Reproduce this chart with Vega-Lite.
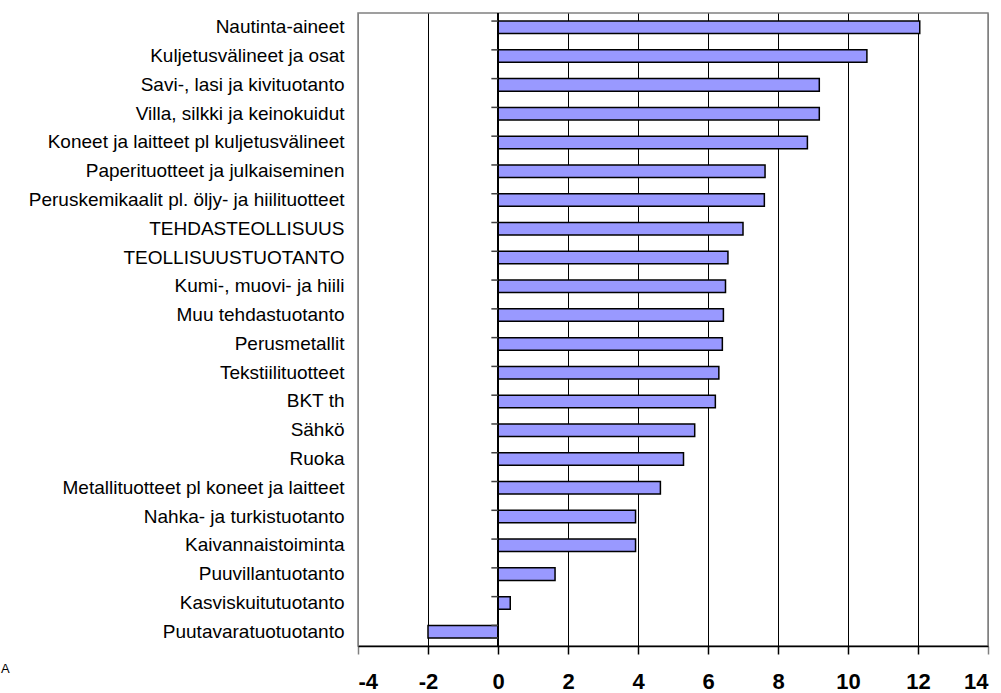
{
  "$schema": "https://vega.github.io/schema/vega-lite/v6.json",
  "autosize": {"type": "none"},
  "padding": {"left": 358, "top": 13, "right": 13, "bottom": 47},
  "width": 630,
  "height": 633,
  "background": "white",
  "config": {
    "view": {"stroke": "#808080", "strokeWidth": 1.5},
    "font": "Liberation Sans"
  },
  "title": {
    "text": "A",
    "orient": "bottom",
    "anchor": "start",
    "frame": "group",
    "fontSize": 13,
    "fontWeight": "normal",
    "font": "Liberation Sans",
    "color": "black",
    "offset": -29,
    "dx": -357
  },
  "data": {
    "values": [
      {"cat": "Nautinta-aineet", "value": 12.05},
      {"cat": "Kuljetusvälineet ja osat", "value": 10.54},
      {"cat": "Savi-, lasi ja kivituotanto", "value": 9.18},
      {"cat": "Villa, silkki ja keinokuidut", "value": 9.18},
      {"cat": "Koneet ja laitteet pl kuljetusvälineet", "value": 8.84},
      {"cat": "Paperituotteet ja julkaiseminen", "value": 7.63},
      {"cat": "Peruskemikaalit pl. öljy- ja hiilituotteet", "value": 7.61},
      {"cat": "TEHDASTEOLLISUUS", "value": 7.0},
      {"cat": "TEOLLISUUSTUOTANTO", "value": 6.57},
      {"cat": "Kumi-, muovi- ja hiili", "value": 6.5},
      {"cat": "Muu tehdastuotanto", "value": 6.44},
      {"cat": "Perusmetallit", "value": 6.41},
      {"cat": "Tekstiilituotteet", "value": 6.31},
      {"cat": "BKT th", "value": 6.21},
      {"cat": "Sähkö", "value": 5.62},
      {"cat": "Ruoka", "value": 5.3},
      {"cat": "Metallituotteet pl koneet ja laitteet", "value": 4.64},
      {"cat": "Nahka- ja turkistuotanto", "value": 3.93},
      {"cat": "Kaivannaistoiminta", "value": 3.93},
      {"cat": "Puuvillantuotanto", "value": 1.63},
      {"cat": "Kasviskuitutuotanto", "value": 0.35},
      {"cat": "Puutavaratuotuotanto", "value": -2.0}
    ]
  },
  "layer": [
    {
      "mark": {"type": "bar", "fill": "#9999FF", "stroke": "black", "strokeWidth": 1.5},
      "encoding": {
        "x": {
          "field": "value",
          "type": "quantitative",
          "scale": {"domain": [-4, 14], "nice": false, "zero": false},
          "axis": {
            "title": null,
            "values": [-4, -2, 0, 2, 4, 6, 8, 10, 12, 14],
            "grid": true,
            "gridColor": {"condition": {"test": "datum.value == -4 || datum.value == 14", "value": "#808080"}, "value": "black"},
            "gridWidth": 1,
            "gridOpacity": 1,
            "domainColor": "black",
            "domainWidth": 1.5,
            "tickColor": {"condition": {"test": "datum.value == -4 || datum.value == 14", "value": "#808080"}, "value": "black"},
            "tickSize": 8,
            "tickWidth": 1.5,
            "labelFontSize": 22,
            "labelFontWeight": "bold",
            "labelFont": "Liberation Sans",
            "labelColor": "black",
            "labelPadding": 17,
            "labelExpr": "'' + datum.value"
          }
        },
        "y": {
          "field": "cat",
          "type": "nominal",
          "sort": null,
          "scale": {"paddingInner": 0.565, "paddingOuter": 0.28},
          "axis": {
            "title": null,
            "domain": false,
            "ticks": false,
            "grid": false,
            "labelFontSize": 19,
            "labelFont": "Liberation Sans",
            "labelColor": "black",
            "labelPadding": 14,
            "labelLimit": 0
          }
        }
      }
    },
    {
      "mark": {"type": "rule", "color": "black", "strokeWidth": 1},
      "encoding": {"x": {"datum": 0}}
    },
    {
      "mark": {"type": "rule", "color": "#404040", "strokeWidth": 1.5},
      "encoding": {
        "y": {"field": "cat", "type": "nominal", "sort": null, "bandPosition": 0},
        "x": {"datum": 0},
        "x2": {"datum": -0.19}
      }
    },
    {
      "transform": [{"filter": "datum.cat == 'Puutavaratuotuotanto'"}],
      "mark": {"type": "rule", "color": "#404040", "strokeWidth": 1.5},
      "encoding": {
        "y": {"field": "cat", "type": "nominal", "sort": null, "bandPosition": 1},
        "x": {"datum": 0},
        "x2": {"datum": -0.19}
      }
    }
  ]
}
